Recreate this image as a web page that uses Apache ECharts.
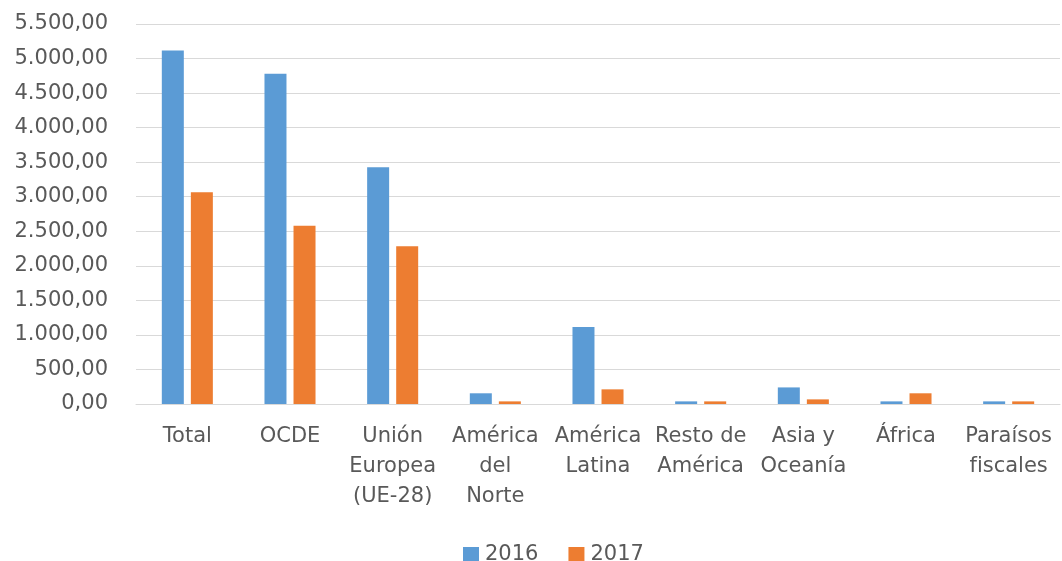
<!DOCTYPE html>
<html lang="es">
  <head>
    <meta charset="utf-8" />
    <title>2016 / 2017</title>
    <script type="text/javascript" src="https://cdn.jsdelivr.net/npm/echarts@6/dist/echarts.min.js"></script>
    <style>
      html, body { margin: 0; padding: 0; background: #fff; }
      #chart { width: 1062px; height: 561px; }
    </style>
  </head>
  <body>
    <div id="chart"></div>
    <script>
      // datos
      var categorias = ['Total', 'OCDE', 'Unión\nEuropea\n(UE-28)', 'América\ndel\nNorte', 'América\nLatina',
        'Resto de\nAmérica', 'Asia y\nOceanía', 'África', 'Paraísos\nfiscales']
      var valores2016 = [5115, 4780, 3425, 155, 1115, 38, 240, 38, 38]
      var valores2017 = [3065, 2580, 2285, 38, 212, 38, 67, 155, 38]
      var ejeMin = 0
      var ejeMax = 5500
      var ejePaso = 500

      function formato (v) {
        var s = v.toFixed(2).split('.')
        return s[0].replace(/\B(?=(\d{3})+(?!\d))/g, '.') + ',' + s[1]
      }

      window.onload = function () {
        var chart = echarts.init(document.getElementById('chart'))
        var fuente = 'DejaVu Sans'
        chart.setOption({
          animation: false,
          textStyle: { fontFamily: fuente },
          color: ['#5B9BD5', '#ED7D31'],
          grid: { left: 136, right: 2, top: 24, bottom: 157 },
          legend: {
            left: 463,
            top: 544,
            padding: 0,
            itemWidth: 16,
            itemHeight: 15,
            itemGap: 30,
            icon: 'rect',
            textStyle: { color: '#595959', fontSize: 21, lineHeight: 15, fontFamily: fuente, padding: [0, 0, 0, 1] },
            data: ['2016', '2017']
          },
          xAxis: {
            type: 'category',
            data: categorias,
            axisTick: { show: false },
            axisLine: { lineStyle: { color: '#D9D9D9', width: 1 } },
            axisLabel: {
              interval: 0,
              color: '#595959',
              fontSize: 21,
              lineHeight: 30,
              margin: 18,
              fontFamily: fuente
            }
          },
          yAxis: {
            type: 'value',
            min: ejeMin,
            max: ejeMax,
            interval: ejePaso,
            axisLine: { show: false },
            axisTick: { show: false },
            splitLine: { lineStyle: { color: '#D9D9D9', width: 1 } },
            axisLabel: {
              color: '#595959',
              fontSize: 21,
              margin: 28,
              fontFamily: fuente,
              formatter: formato
            }
          },
          series: [
            { name: '2016', type: 'bar', data: valores2016, barWidth: 22, barGap: '32%' },
            { name: '2017', type: 'bar', data: valores2017, barWidth: 22, barGap: '32%' }
          ]
        })
      }
    </script>
  </body>
</html>
